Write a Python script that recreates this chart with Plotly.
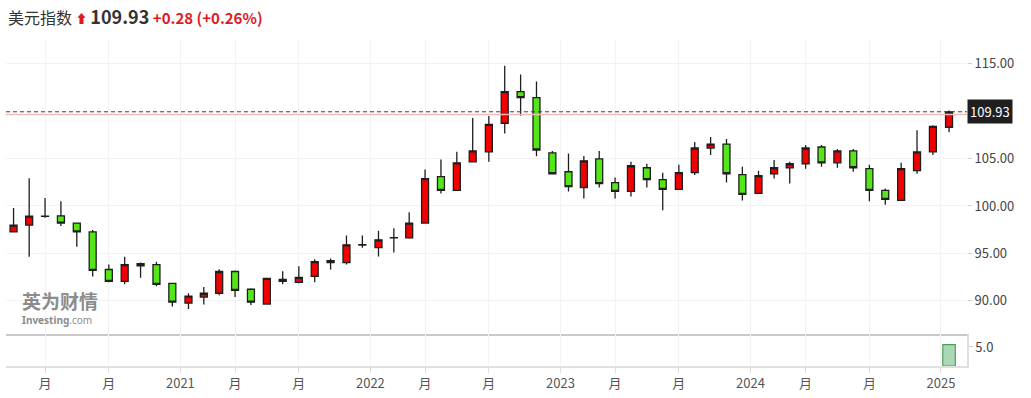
import pandas as pd
import plotly.graph_objects as go
from plotly.subplots import make_subplots

# ---- data (monthly candles, Feb 2020 .. Jan 2025) ----
months = [str(p) for p in pd.period_range("2020-02", "2025-01", freq="M")]

opens = [97.26, 97.99, 98.93, 98.96, 98.20, 97.26, 93.30, 92.05, 93.68, 93.82, 91.84, 89.76,
         90.39, 90.80, 93.09, 91.22, 89.66, 92.26, 91.95, 92.57, 94.24, 94.03, 95.88, 95.60,
         96.64, 96.64, 98.20, 103.09, 101.64, 104.66, 105.70, 108.72, 112.05, 111.43, 105.59, 103.61,
         101.95, 104.97, 102.47, 101.53, 104.03, 102.78, 101.74, 103.51, 106.11, 106.53, 103.30, 101.32,
         103.40, 104.03, 104.45, 106.22, 104.55, 105.80, 103.93, 101.64, 100.59, 103.72, 105.70, 108.30]
highs = [99.79, 102.92, 100.83, 100.49, 98.25, 97.47, 93.82, 94.65, 94.03, 94.13, 91.90, 90.80,
         91.46, 93.33, 93.20, 91.32, 92.40, 93.13, 93.65, 94.38, 94.45, 96.88, 96.88, 97.40,
         97.64, 99.34, 103.85, 104.90, 105.73, 109.27, 109.48, 114.79, 113.85, 113.13, 105.80, 105.52,
         105.28, 105.80, 102.99, 104.65, 104.45, 103.51, 104.34, 106.74, 107.26, 107.05, 104.13, 103.72,
         104.86, 104.65, 106.42, 106.42, 106.01, 106.01, 104.34, 101.84, 104.55, 107.99, 108.51, 110.07]
lows = [97.20, 94.65, 98.75, 97.89, 95.70, 92.57, 91.95, 91.74, 92.43, 91.53, 89.41, 89.14,
        89.61, 90.59, 90.39, 89.55, 89.60, 91.74, 91.84, 91.95, 93.30, 93.82, 95.60, 94.66,
        95.10, 96.55, 98.15, 101.32, 101.60, 104.60, 104.66, 107.64, 109.51, 105.24, 103.35, 101.53,
        100.80, 101.95, 100.80, 101.00, 101.95, 99.55, 101.70, 103.26, 105.38, 102.47, 100.59, 101.28,
        102.89, 102.36, 103.93, 104.13, 104.03, 103.61, 100.49, 100.14, 100.55, 103.40, 105.38, 107.78]
closes = [97.99, 98.93, 98.90, 98.20, 97.26, 93.20, 92.05, 93.82, 93.93, 91.74, 89.86, 90.49,
          90.80, 93.09, 91.11, 89.86, 92.36, 92.05, 92.47, 94.13, 94.03, 95.90, 95.92, 96.43,
          96.67, 98.20, 102.89, 101.64, 104.55, 105.80, 108.61, 112.05, 111.43, 105.90, 103.40, 102.05,
          104.76, 102.36, 101.53, 104.24, 102.78, 101.74, 103.51, 106.11, 106.53, 103.40, 101.22, 103.20,
          104.03, 104.45, 106.11, 104.55, 105.80, 104.03, 101.64, 100.70, 103.93, 105.70, 108.40, 109.93]
volumes = [None] * 59 + [5.6]

last_price = 109.93
prev_close = 109.65

year_ticks = ["2021", "2022", "2023", "2024", "2025"]
month_tick_years = ["2020", "2021", "2022", "2023", "2024"]

# ---- positions: candle at middle of each month ----
starts = pd.to_datetime([m + "-01" for m in months])
ends = starts + pd.offsets.MonthBegin(1)
mids = starts + (ends - starts) / 2

tickvals, ticktext = [], []
for y in month_tick_years:
    for m in ("04", "08"):
        s = pd.Timestamp(f"{y}-{m}-01")
        e = s + pd.offsets.MonthBegin(1)
        tickvals.append(s + (e - s) / 2)
        ticktext.append("月")
for y in year_ticks:
    tickvals.append(pd.Timestamp(f"{y}-01-01"))
    ticktext.append(y)

FONT = "Noto Sans CJK SC, Noto Sans, sans-serif"
RED = "#e0191f"

fig = make_subplots(rows=2, cols=1, shared_xaxes=True, vertical_spacing=0,
                    row_heights=[298 / 330, 32 / 330])

fig.add_trace(go.Candlestick(
    x=mids, open=opens, high=highs, low=lows, close=closes,
    increasing=dict(fillcolor="#f20000", line=dict(color="#1e1e1e", width=1.3)),
    decreasing=dict(fillcolor="#55e617", line=dict(color="#1e1e1e", width=1.3)),
    whiskerwidth=0, showlegend=False, hoverinfo="skip",
), row=1, col=1)

fig.add_trace(go.Bar(
    x=mids, y=volumes, marker=dict(color="#aad8b4", line=dict(color="#4f9e5e", width=1.2)),
    width=24 * 24 * 3600 * 1000, showlegend=False, hoverinfo="skip",
), row=2, col=1)

xr = ["2020-02-01", "2025-02-20"]
fig.update_xaxes(range=xr, rangeslider_visible=False, tickvals=tickvals, ticktext=ticktext,
                 showgrid=True, gridcolor="#f2f3f5", gridwidth=1, zeroline=False)
fig.update_xaxes(row=1, col=1, showticklabels=False, showline=True, linecolor="#c9c9c9",
                 linewidth=1.5, ticks="")
fig.update_xaxes(row=2, col=1, showline=True, linecolor="#e0e0e4", linewidth=1.5,
                 ticks="outside", ticklen=5, tickcolor="#dcdce0",
                 tickfont=dict(family=FONT, size=13, color="#555555"))

fig.update_yaxes(row=1, col=1, side="right", range=[86.46, 117.5],
                 tickvals=[90, 95, 100, 105, 110, 115],
                 ticktext=["90.00", "95.00", "100.00", "105.00", "", "115.00"],
                 showgrid=True, gridcolor="#f2f3f5", zeroline=False,
                 ticks="outside", ticklen=4, tickcolor="#d0d0d0",
                 tickfont=dict(family=FONT, size=13, color="#444444"))
fig.update_yaxes(row=2, col=1, side="right", range=[0, 8.29], tickvals=[5], ticktext=["5.0"],
                 showgrid=False, zeroline=False, showline=True, linecolor="#e0e0e4", linewidth=1.5,
                 ticks="outside", ticklen=4, tickcolor="#d0d0d0",
                 tickfont=dict(family=FONT, size=13, color="#444444"))

# last price / previous close lines
fig.add_shape(type="line", xref="x domain", yref="y", x0=0, x1=1, y0=prev_close, y1=prev_close,
              line=dict(color="#f5b9b9", width=1.5))
fig.add_shape(type="line", xref="x domain", yref="y", x0=0, x1=1, y0=last_price, y1=last_price,
              line=dict(color="#444444", width=1, dash="4px,3px"))

annotations = [
    dict(xref="paper", yref="y", x=1.0, y=last_price, xanchor="left", yanchor="middle",
         text=f"{last_price:.2f}", showarrow=False, bgcolor="#1f1f1f", borderpad=2,
         font=dict(family=FONT, size=13, color="#ffffff")),
    dict(xref="paper", yref="paper", x=(6 - 6) / 961, y=1 + (40 - 16) / 330,
         xanchor="left", yanchor="middle", showarrow=False,
         text=("<span style='font-size:16px'>美元指数</span> "
               f"<span style='color:{RED};font-size:12px'>⬆ </span>"
               f"<b><span style='font-size:18px'>{last_price:.2f}</span></b> "
               f"<span style='color:{RED};font-size:15px'><b>+0.28</b> <b>(+0.26%)</b></span>"),
         font=dict(family=FONT, size=16, color="#333333")),
    dict(xref="paper", yref="paper", x=(20 - 6) / 961, y=(370 - 304) / 330,
         xanchor="left", yanchor="middle", showarrow=False,
         text="<b>英为财情</b>", font=dict(family=FONT, size=19, color="#8c8c8c")),
    dict(xref="paper", yref="paper", x=(20 - 6) / 961, y=(370 - 323) / 330,
         xanchor="left", yanchor="middle", showarrow=False,
         text="<b>Investing</b>.com", font=dict(family="Noto Sans, sans-serif", size=10, color="#8c8c8c")),
]
fig.update_layout(
    width=1031, height=398, margin=dict(l=6, r=64, t=40, b=28),
    paper_bgcolor="white", plot_bgcolor="white", boxgap=0.35,
    annotations=annotations, font=dict(family=FONT),
)

fig.write_html("out.html", config={"displayModeBar": False},
               post_script="document.body.style.margin='0';")
